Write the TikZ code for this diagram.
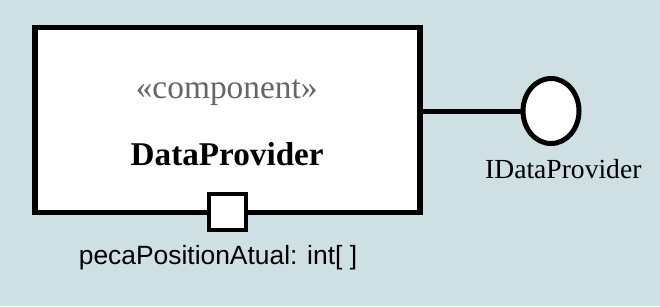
\documentclass[tikz,border=0pt]{standalone}
\usepackage{fontspec}
\setmainfont{Liberation Serif}
\setsansfont{Liberation Sans}
\usetikzlibrary{shapes.geometric}
\definecolor{canvas}{RGB}{206,224,228}
\definecolor{stereo}{RGB}{102,102,102}
\tikzset{
  compbox/.style={draw=black, fill=white, line width=5.3pt, inner sep=0pt,
    minimum width=385pt, minimum height=185pt},
  portbox/.style={draw=black, fill=white, line width=4pt, inner sep=0pt,
    minimum width=37.3pt, minimum height=35.7pt},
  iface/.style={ellipse, draw=black, fill=white, line width=5pt, inner sep=0pt,
    minimum width=56pt, minimum height=65pt},
  wire/.style={draw=black, line width=5pt},
  lbl/.style={inner sep=0pt, anchor=base}
}
\begin{document}
\begin{tikzpicture}[x=1pt, y=-1pt]
  % canvas
  \fill[canvas] (0,0) rectangle (660,306);
  \useasboundingbox (0,0) rectangle (660,306);

  % component with its stereotype and name
  \node[compbox] (comp) at (227.4,120) {};
  \node[lbl, text=stereo, font=\fontsize{33.4}{37}\selectfont] (stereotype) at (226.7,98) {«component»};
  \node[lbl, font=\fontsize{33.2}{37}\selectfont\bfseries] (compname) at (227.2,165) {DataProvider};

  % provided interface (lollipop)
  \node[iface] (iface) at (551,111) {};
  \draw[wire] (comp.east |- iface.west) -- (iface.west);
  \node[lbl, font=\fontsize{27.6}{31}\selectfont] (ifacename) at (563.3,178.3) {IDataProvider};

  % port on the bottom edge
  \node[portbox] (port) at (227.35,211.85) {};
  \node[lbl, font=\sffamily\fontsize{26.4}{30}\selectfont] (portname) at (218,264.3) {pecaPositionAtual: int[ ]};
\end{tikzpicture}
\end{document}
